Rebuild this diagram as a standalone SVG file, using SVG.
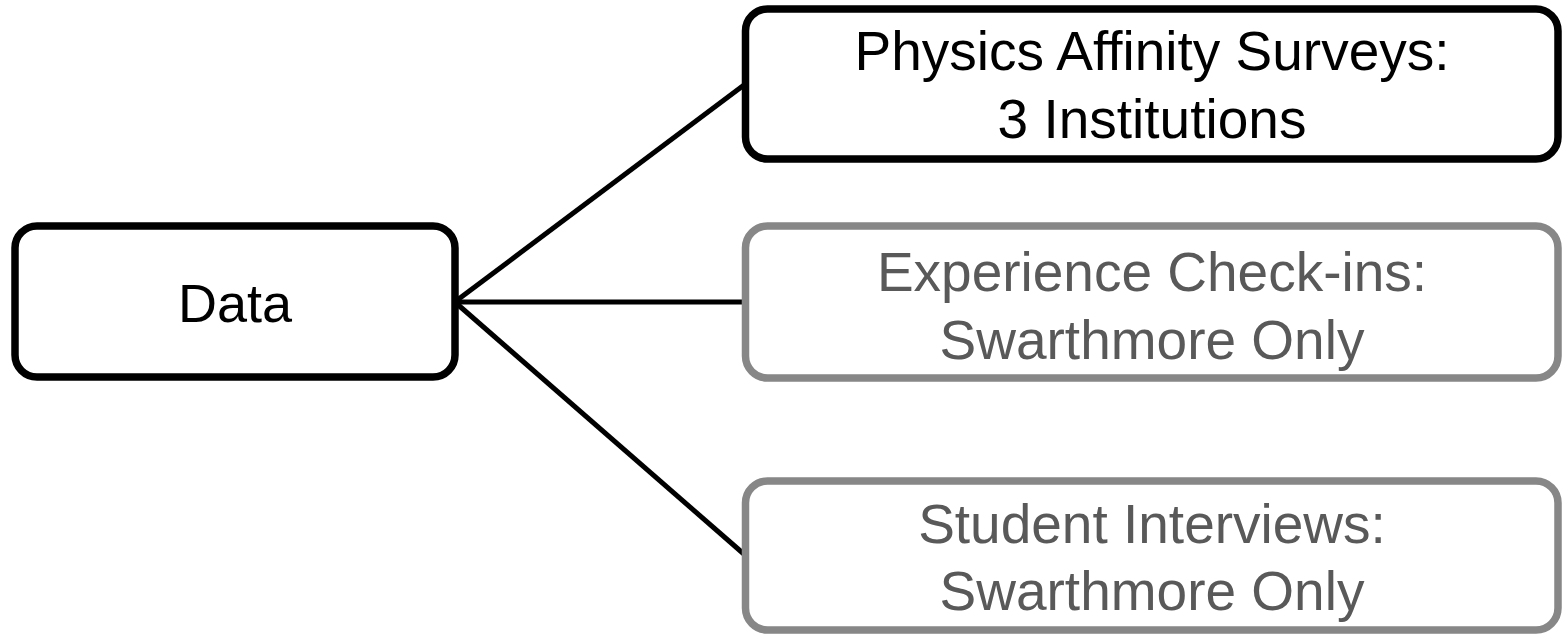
<svg xmlns="http://www.w3.org/2000/svg" width="1563" height="634" viewBox="0 0 1563 634">
<style>
.box{fill:#fff;stroke-width:7.5}
.dark{stroke:#000}
.gray{stroke:#878787}
.t{font-family:"Liberation Sans",Arial,sans-serif;font-size:55px;text-anchor:middle}
.tk{fill:#000}
.tg{fill:#595959}
.conn{stroke:#000;stroke-width:5;fill:none}
</style>
<rect width="1563" height="634" fill="#fff"/>
<g id="connectors">
<line class="conn" x1="456" y1="301" x2="744" y2="85"/>
<line class="conn" x1="456" y1="302" x2="744" y2="302"/>
<line class="conn" x1="456" y1="303" x2="745" y2="555"/>
</g>
<g id="node-data">
<rect class="box dark" x="15" y="226" width="440" height="151" rx="22"/>
<text class="t tk" x="235" y="322" style="font-size:54px">Data</text>
</g>
<g id="node-surveys">
<rect class="box dark" x="745.5" y="9" width="812.5" height="150" rx="22"/>
<text class="t tk" x="1152" y="70">Physics Affinity Surveys:</text>
<text class="t tk" x="1152" y="138">3 Institutions</text>
</g>
<g id="node-checkins">
<rect class="box gray" x="745.5" y="226" width="812.5" height="152" rx="22"/>
<text class="t tg" x="1152" y="291">Experience Check-ins:</text>
<text class="t tg" x="1152" y="359">Swarthmore Only</text>
</g>
<g id="node-interviews">
<rect class="box gray" x="745.5" y="481" width="812.5" height="149" rx="22"/>
<text class="t tg" x="1152" y="543">Student Interviews:</text>
<text class="t tg" x="1152" y="610">Swarthmore Only</text>
</g>
</svg>
